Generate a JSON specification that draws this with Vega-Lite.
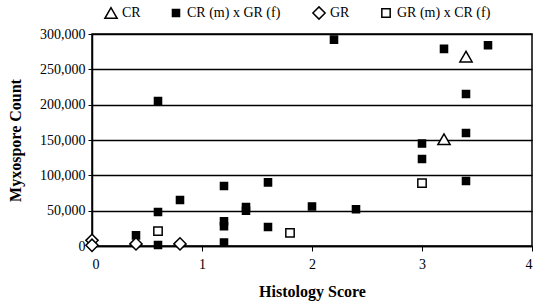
{
  "$schema": "https://vega.github.io/schema/vega-lite/v6.json",
  "width": 440,
  "height": 212,
  "autosize": {"type": "none"},
  "padding": {"left": 92, "top": 34, "right": 2, "bottom": 56},
  "background": "white",
  "config": {
    "font": "Liberation Serif",
    "view": {"stroke": "black", "strokeWidth": 1.5},
    "axis": {"labelFont": "Liberation Serif", "titleFont": "Liberation Serif", "labelColor": "black", "titleColor": "black", "domainColor": "black", "tickColor": "black"},
    "legend": {"labelFont": "Liberation Serif", "labelColor": "black", "labelFontSize": 14}
  },
  "data": {
    "values": [
      {"series": "CR", "score": 3.4, "count": 268000},
      {"series": "CR", "score": 3.2, "count": 151000},
      {"series": "CR (m) x GR (f)", "score": 0.4, "count": 15000},
      {"series": "CR (m) x GR (f)", "score": 0.6, "count": 205000},
      {"series": "CR (m) x GR (f)", "score": 0.6, "count": 48000},
      {"series": "CR (m) x GR (f)", "score": 0.6, "count": 1500},
      {"series": "CR (m) x GR (f)", "score": 0.8, "count": 65000},
      {"series": "CR (m) x GR (f)", "score": 1.2, "count": 85000},
      {"series": "CR (m) x GR (f)", "score": 1.2, "count": 35000},
      {"series": "CR (m) x GR (f)", "score": 1.2, "count": 28000},
      {"series": "CR (m) x GR (f)", "score": 1.2, "count": 5000},
      {"series": "CR (m) x GR (f)", "score": 1.4, "count": 55000},
      {"series": "CR (m) x GR (f)", "score": 1.4, "count": 50000},
      {"series": "CR (m) x GR (f)", "score": 1.6, "count": 90000},
      {"series": "CR (m) x GR (f)", "score": 1.6, "count": 27000},
      {"series": "CR (m) x GR (f)", "score": 2.0, "count": 56000},
      {"series": "CR (m) x GR (f)", "score": 2.2, "count": 292000},
      {"series": "CR (m) x GR (f)", "score": 2.4, "count": 52000},
      {"series": "CR (m) x GR (f)", "score": 3.0, "count": 145000},
      {"series": "CR (m) x GR (f)", "score": 3.0, "count": 123000},
      {"series": "CR (m) x GR (f)", "score": 3.2, "count": 279000},
      {"series": "CR (m) x GR (f)", "score": 3.4, "count": 215000},
      {"series": "CR (m) x GR (f)", "score": 3.4, "count": 160000},
      {"series": "CR (m) x GR (f)", "score": 3.4, "count": 92000},
      {"series": "CR (m) x GR (f)", "score": 3.6, "count": 284000},
      {"series": "GR", "score": 0, "count": 8000},
      {"series": "GR", "score": 0, "count": 1000},
      {"series": "GR", "score": 0.4, "count": 3000},
      {"series": "GR", "score": 0.8, "count": 3000},
      {"series": "GR (m) x CR (f)", "score": 0.6, "count": 21000},
      {"series": "GR (m) x CR (f)", "score": 1.8, "count": 18500},
      {"series": "GR (m) x CR (f)", "score": 3.0, "count": 89000}
    ]
  },
  "mark": {"type": "point", "filled": true, "stroke": "black", "strokeWidth": 1.5, "opacity": 1},
  "encoding": {
    "x": {
      "field": "score", "type": "quantitative",
      "scale": {"domain": [0, 4], "nice": false},
      "axis": {"values": [0, 1, 2, 3, 4], "grid": false, "title": "Histology Score", "titleFont": "Liberation Serif", "titleFontSize": 16, "titleFontWeight": "bold", "titlePadding": 12, "labelFont": "Liberation Serif", "labelFontSize": 14, "tickSize": 5, "labelPadding": 6, "domainWidth": 1.5}
    },
    "y": {
      "field": "count", "type": "quantitative",
      "scale": {"domain": [0, 300000], "nice": false},
      "axis": {"values": [0, 50000, 100000, 150000, 200000, 250000, 300000], "format": ",d", "grid": true, "gridColor": "black", "gridWidth": 1.5, "gridOpacity": 1, "title": "Myxospore Count", "titleFont": "Liberation Serif", "titleFontSize": 16, "titleFontWeight": "bold", "titlePadding": 16, "labelFont": "Liberation Serif", "labelFontSize": 14, "tickSize": 4, "labelPadding": 3, "domainWidth": 1.5}
    },
    "shape": {
      "field": "series", "type": "nominal",
      "scale": {"domain": ["CR", "CR (m) x GR (f)", "GR", "GR (m) x CR (f)"], "range": ["triangle-up", "square", "diamond", "square"]},
      "legend": {"title": null, "orient": "none", "direction": "horizontal", "columns": 4, "gridAlign": "none", "legendX": 12, "legendY": -28, "columnPadding": 28, "labelOffset": 4,
        "encode": {"symbols": {"update": {"stroke": {"value": "black"}, "strokeWidth": {"value": 1.2}, "size": {"value": 60}}}}}
    },
    "fill": {
      "field": "series", "type": "nominal",
      "scale": {"domain": ["CR", "CR (m) x GR (f)", "GR", "GR (m) x CR (f)"], "range": ["white", "black", "white", "white"]},
      "legend": {"title": null, "orient": "none", "direction": "horizontal", "columns": 4, "gridAlign": "none", "legendX": 12, "legendY": -28, "columnPadding": 28, "labelOffset": 4,
        "encode": {"symbols": {"update": {"stroke": {"value": "black"}, "strokeWidth": {"value": 1.2}, "size": {"value": 60}}}}}
    },
    "size": {
      "field": "series", "type": "nominal",
      "scale": {"type": "ordinal", "domain": ["CR", "CR (m) x GR (f)", "GR", "GR (m) x CR (f)"], "range": [150, 50, 150, 70]},
      "legend": {"title": null, "orient": "none", "direction": "horizontal", "columns": 4, "gridAlign": "none", "legendX": 12, "legendY": -28, "columnPadding": 28, "labelOffset": 4,
        "encode": {"symbols": {"update": {"stroke": {"value": "black"}, "strokeWidth": {"value": 1.2}, "size": {"value": 60}}}}}
    }
  }
}
